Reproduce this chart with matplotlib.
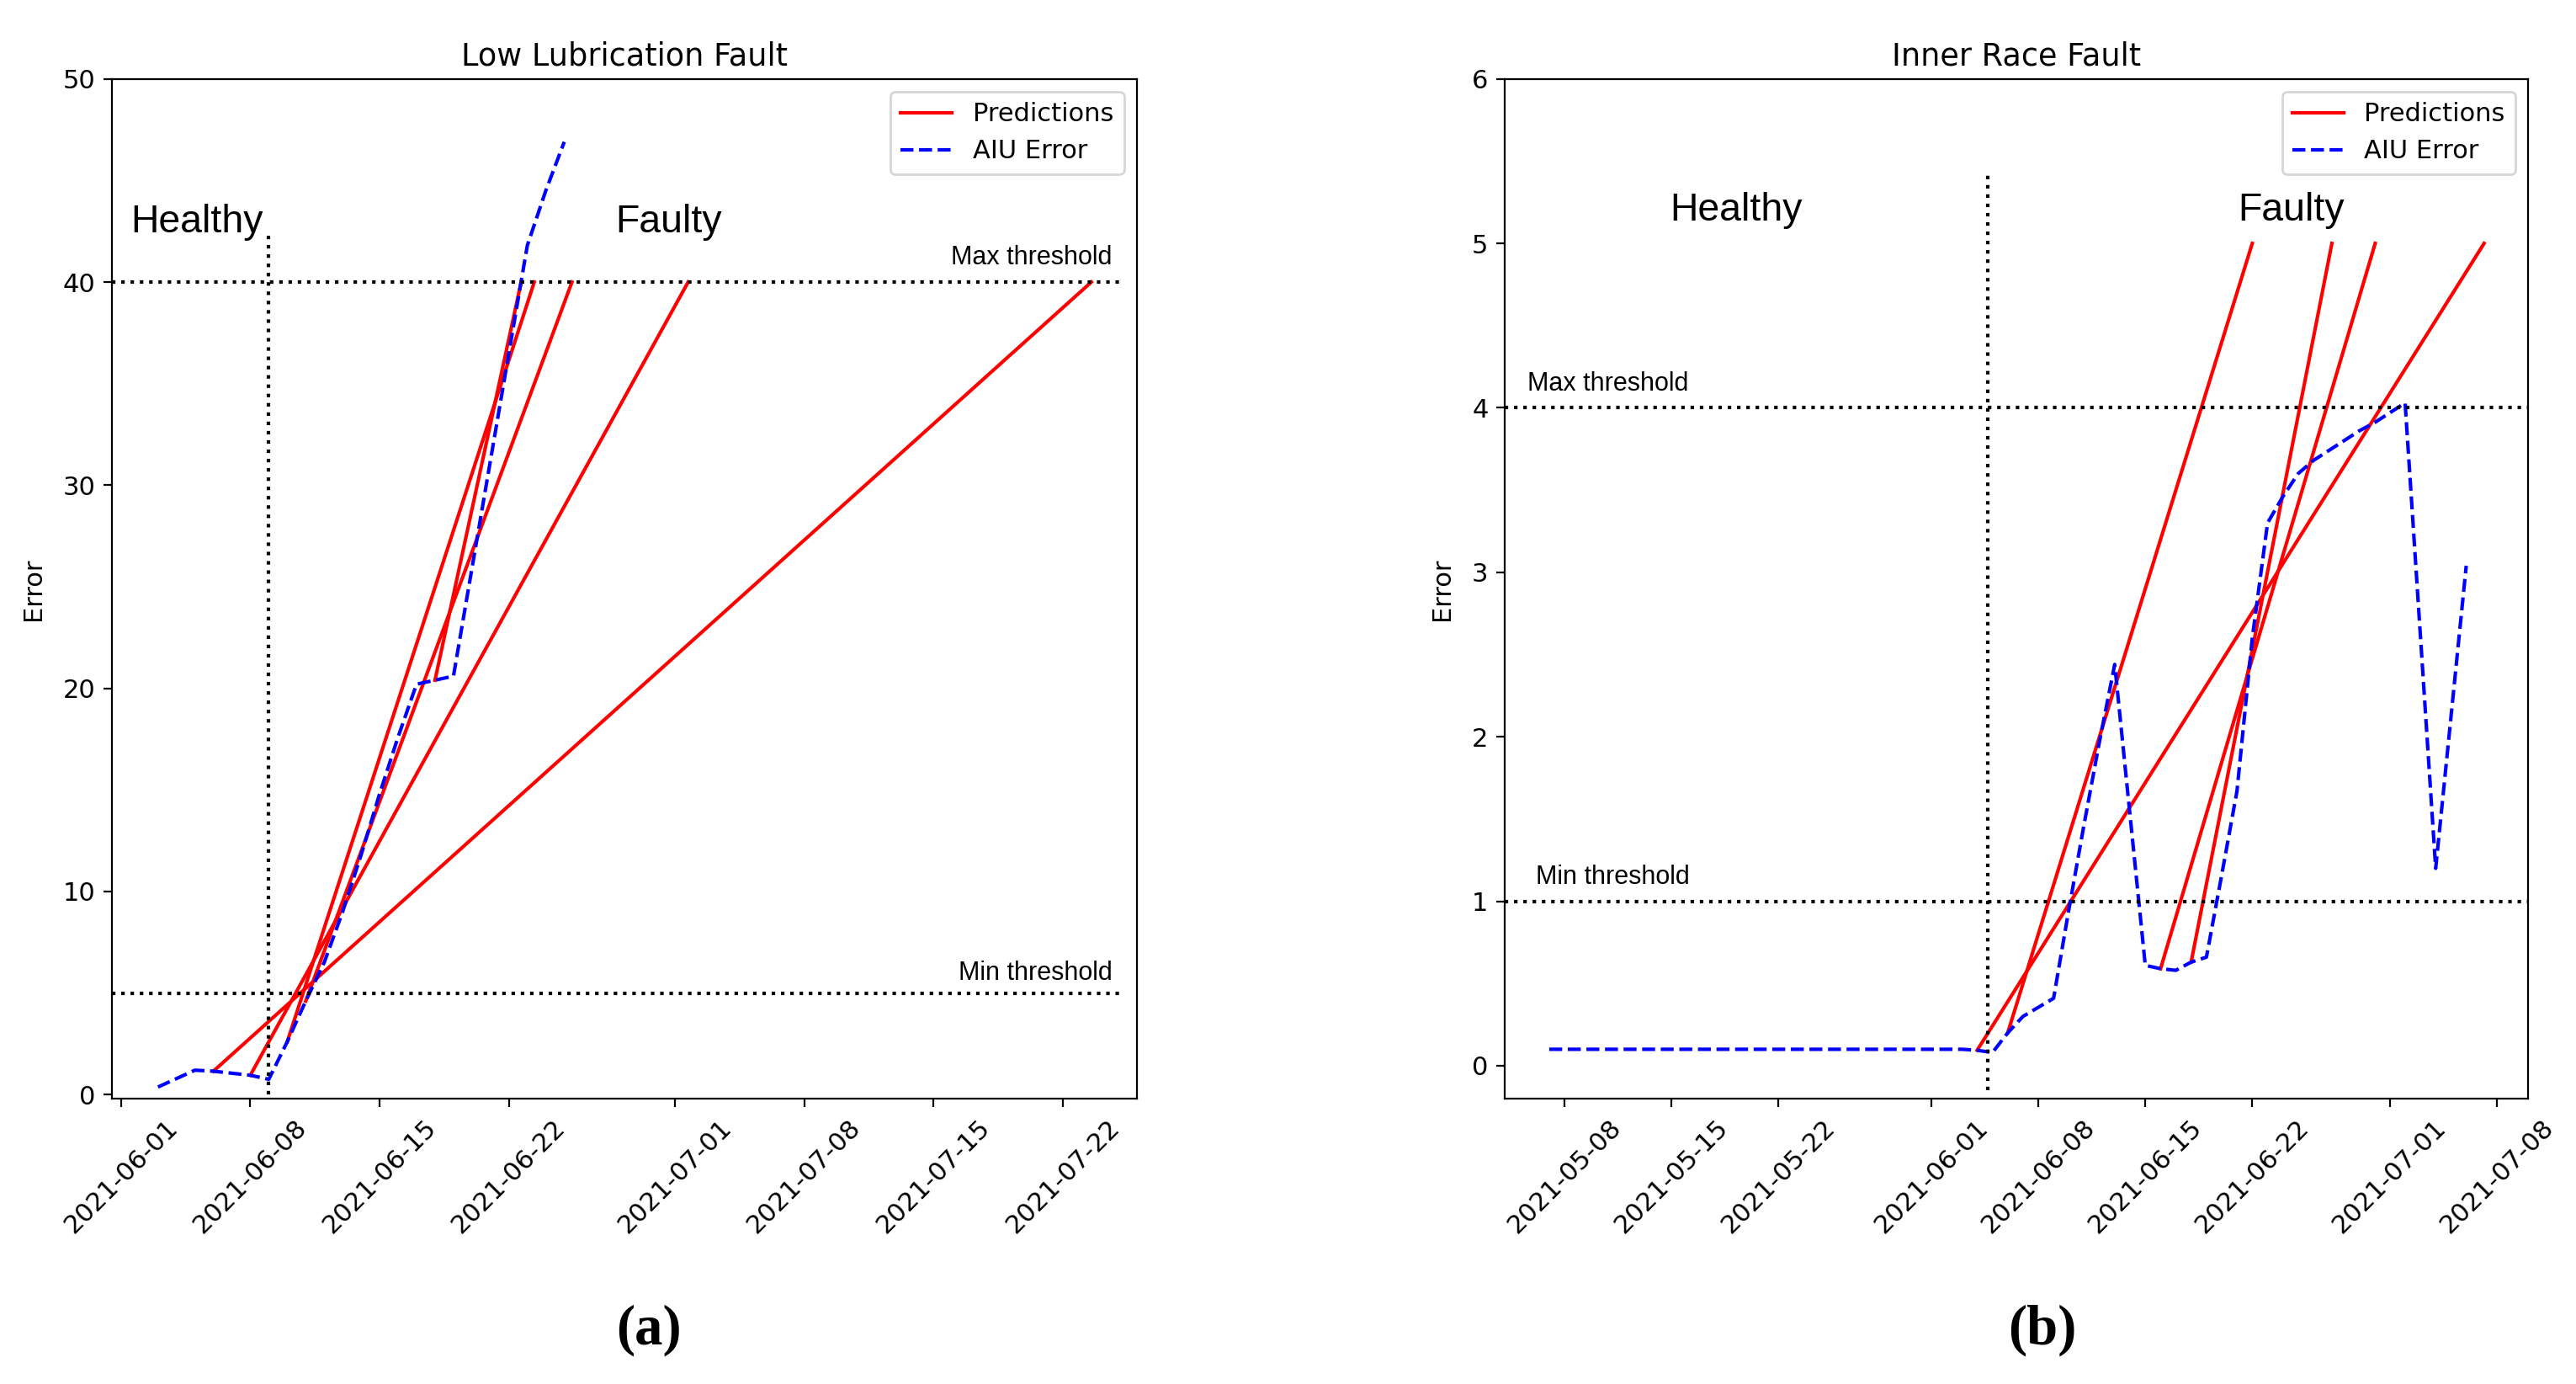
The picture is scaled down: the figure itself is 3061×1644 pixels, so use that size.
import numpy as np
import pandas as pd
import matplotlib
matplotlib.use('Agg')
import matplotlib.pyplot as plt
import matplotlib.dates as mdates

# (a) Low lubrication fault
lub_dates = ['2021-06-03', '2021-06-05', '2021-06-06', '2021-06-08', '2021-06-09',
             '2021-06-10', '2021-06-11', '2021-06-12', '2021-06-13', '2021-06-14',
             '2021-06-15', '2021-06-16', '2021-06-17', '2021-06-18', '2021-06-19',
             '2021-06-20', '2021-06-21', '2021-06-22', '2021-06-23', '2021-06-24',
             '2021-06-25']
lub_error = [0.37, 1.2, 1.15, 0.95, 0.75,
             2.6, 4.6, 6.5, 9.0, 11.8,
             14.8, 17.6, 20.2, 20.4, 20.6,
             25.9, 31.2, 36.5, 41.8, 44.5,
             46.9]
lub_pred_start = ['2021-06-06', '2021-06-08', '2021-06-10', '2021-06-11', '2021-06-18']
lub_pred_start_err = [1.15, 0.95, 2.6, 4.6, 20.4]
lub_pred_end = ['2021-07-23 13:00', '2021-07-01 17:00', '2021-06-23 09:00',
                '2021-06-25 10:00', '2021-06-22 16:00']
lub_pred_end_err = [40, 40, 40, 40, 40]
lub_fault_date = '2021-06-09'
lub_max_thr = 40
lub_min_thr = 5

# (b) Inner race fault
irf_dates = ['2021-05-07', '2021-06-03', '2021-06-04', '2021-06-05', '2021-06-06',
             '2021-06-07', '2021-06-09', '2021-06-10', '2021-06-11', '2021-06-12',
             '2021-06-13', '2021-06-15', '2021-06-16', '2021-06-17', '2021-06-18',
             '2021-06-19', '2021-06-20', '2021-06-21', '2021-06-22', '2021-06-23',
             '2021-06-24', '2021-06-25', '2021-06-26', '2021-06-27', '2021-06-28',
             '2021-06-29', '2021-06-30', '2021-07-01', '2021-07-02', '2021-07-04',
             '2021-07-06']
irf_error = [0.10, 0.10, 0.094, 0.08, 0.20,
             0.30, 0.41, 0.95, 1.47, 1.97,
             2.44, 0.61, 0.59, 0.58, 0.63,
             0.66, 1.16, 1.67, 2.6, 3.3,
             3.46, 3.6, 3.68, 3.74, 3.8,
             3.86, 3.91, 3.97, 4.03, 1.2,
             3.04]
irf_pred_start = ['2021-06-04', '2021-06-06', '2021-06-16', '2021-06-18']
irf_pred_start_err = [0.094, 0.2, 0.59, 0.63]
irf_pred_end = ['2021-07-07 04:00', '2021-06-22 00:00', '2021-06-30 01:00', '2021-06-27 05:00']
irf_pred_end_err = [5, 5, 5, 5]
irf_fault_date = '2021-06-04 16:00'
irf_max_thr = 4
irf_min_thr = 1

plt.rcParams['font.size'] = 11
label_font = 'Liberation Sans'


def plotPanel(ax, dates, error, pstart, pstart_err, pend, pend_err, title):
    dates = pd.to_datetime(dates)
    pstart = pd.to_datetime(pstart)
    pend = pd.to_datetime(pend)
    for i in range(len(pstart)):
        ax.plot([pstart[i], pend[i]], [pstart_err[i], pend_err[i]], 'r-', lw=1.5,
                label='Predictions' if i == 0 else None)
    ax.plot(dates, error, 'b--', lw=1.5, label='AIU Error')
    ax.set_title(title, fontsize=13.2)
    ax.set_ylabel('Error', labelpad=7.5)
    ax.xaxis.set_major_locator(mdates.DayLocator(bymonthday=[1, 8, 15, 22]))
    ax.xaxis.set_major_formatter(mdates.DateFormatter('%Y-%m-%d'))
    for lbl in ax.get_xticklabels():
        lbl.set_rotation(45)
        lbl.set_ha('center')
    ax.legend(loc='upper right', fontsize=11)


fig = plt.figure(figsize=(15.305, 8.22), dpi=200)

# left panel
ax1 = fig.add_axes([0.0434, 0.2062, 0.3979, 0.7368])
plotPanel(ax1, lub_dates, lub_error, lub_pred_start, lub_pred_start_err,
          lub_pred_end, lub_pred_end_err, 'Low Lubrication Fault')
x0, x1 = pd.Timestamp('2021-05-31 12:00'), pd.Timestamp('2021-07-26 00:00')
ax1.hlines([lub_max_thr, lub_min_thr], x0, pd.Timestamp('2021-07-25 05:00'),
           colors='k', linestyles=':', lw=1.5)
ax1.vlines(pd.Timestamp(lub_fault_date), 0, 42.5, colors='k', linestyles=':', lw=1.5)
ax1.set_xlim(x0, x1)
ax1.set_ylim(-0.2, 50)
ax1.text(pd.Timestamp('2021-06-01 13:00'), 42.45, 'Healthy', fontsize=16.7,
         family=label_font, va='baseline')
ax1.text(pd.Timestamp('2021-06-27 18:00'), 42.45, 'Faulty', fontsize=16.7,
         family=label_font, va='baseline')
ax1.text(pd.Timestamp('2021-07-24 16:00'), 40.86, 'Max threshold', fontsize=11,
         family=label_font, va='baseline', ha='right')
ax1.text(pd.Timestamp('2021-07-24 16:00'), 5.64, 'Min threshold', fontsize=11,
         family=label_font, va='baseline', ha='right')

# right panel
ax2 = fig.add_axes([0.5841, 0.2062, 0.3974, 0.7368])
plotPanel(ax2, irf_dates, irf_error, irf_pred_start, irf_pred_start_err,
          irf_pred_end, irf_pred_end_err, 'Inner Race Fault')
ax2.axhline(irf_max_thr, color='k', ls=':', lw=1.5)
ax2.axhline(irf_min_thr, color='k', ls=':', lw=1.5)
ax2.vlines(pd.Timestamp(irf_fault_date), -0.15, 5.43, colors='k', linestyles=':', lw=1.5)
ax2.set_xlim(pd.Timestamp('2021-05-04 02:00'), pd.Timestamp('2021-07-10 01:30'))
ax2.set_ylim(-0.2, 6)
ax2.text(pd.Timestamp('2021-05-14 21:00'), 5.14, 'Healthy', fontsize=16.7,
         family=label_font, va='baseline')
ax2.text(pd.Timestamp('2021-06-21 01:30'), 5.14, 'Faulty', fontsize=16.7,
         family=label_font, va='baseline')
ax2.text(pd.Timestamp('2021-05-05 14:00'), 4.106, 'Max threshold', fontsize=11,
         family=label_font, va='baseline')
ax2.text(pd.Timestamp('2021-05-06 03:00'), 1.106, 'Min threshold', fontsize=11,
         family=label_font, va='baseline')

fig.text(0.252, 0.039, '(a)', fontsize=24, family='Liberation Serif',
         weight='bold', ha='center', va='center')
fig.text(0.7927, 0.039, '(b)', fontsize=24, family='Liberation Serif',
         weight='bold', ha='center', va='center')

fig.savefig('out.png', dpi=200)
